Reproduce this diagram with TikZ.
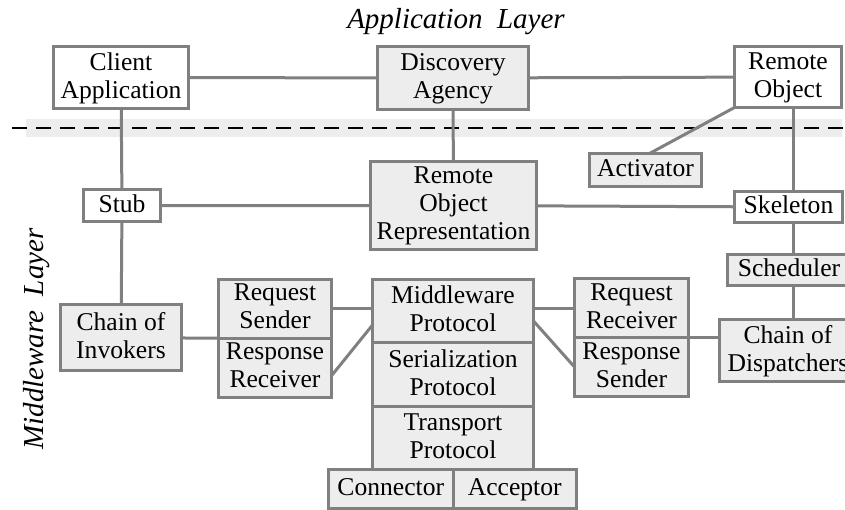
\documentclass[tikz,border=0pt]{standalone}
\usepackage{fontspec}
\setmainfont{Liberation Serif}
\usepackage{xcolor}
\usetikzlibrary{positioning}
\definecolor{boxgray}{gray}{0.5}
\definecolor{fillgray}{gray}{0.93}
\definecolor{bandgray}{gray}{0.93}

\begin{document}
\begin{tikzpicture}[
    x = 0.5pt, y = -0.5pt,
    node distance = 0pt,
    font = \fontsize{12.8}{14}\selectfont]
    \tikzstyle{box}=[draw=boxgray,line width=1.5pt,rectangle,inner sep=0pt,outer sep=0pt,text depth=0.22em,align=center]
    \tikzstyle{plain}=[box,fill=white]
    \tikzstyle{shade}=[box,fill=fillgray]
    \tikzstyle{link}=[draw=boxgray,line width=1.5pt]
    \tikzstyle{layer}=[inner sep=0pt,font=\fontsize{14.5}{16}\selectfont\itshape]
    \useasboundingbox (0,0) rectangle (845,509);
    \fill[bandgray] (26,119) rectangle (842,137);
    \draw[line width=1pt,dash pattern=on 7.5pt off 4.5pt] (12,128) -- (845,128);
    \node[layer] (applayer) at (456,22) {Application~~Layer};
    \node[layer,rotate=90] (midlayer) at (37,339) {Middleware~~Layer};
    \node[plain,minimum width=67.5pt,minimum height=31pt] (capp) at (121,77.5) {Client\\Application};
    \node[shade,minimum width=75.5pt,minimum height=31.5pt] (disc) at (453,78) {Discovery\\Agency};
    \node[plain,minimum width=53.5pt,minimum height=30.5pt] (robj) at (788,77) {Remote\\Object};
    \node[plain,minimum width=38.5pt,minimum height=16pt] (stub) at (122,205.5) {Stub};
    \node[shade,minimum width=83pt,minimum height=44pt] (ror) at (453.5,205.5) {Remote\\Object\\Representation};
    \node[shade,minimum width=56pt,minimum height=16.5pt] (activ) at (645.5,170) {Activator};
    \node[plain,minimum width=54pt,minimum height=15.5pt] (skel) at (788.5,207) {Skeleton};
    \node[shade,minimum width=61.5pt,minimum height=15.5pt] (sched) at (789,270) {Scheduler};
    \node[shade,minimum width=68.5pt,minimum height=31pt] (cod) at (788,350.5) {Chain of\\Dispatchers};
    \node[shade,minimum width=60.5pt,minimum height=33pt] (coi) at (121,337.5) {Chain of\\Invokers};
    \node[shade,minimum width=56.5pt,minimum height=29.5pt] (rs) at (275,308.75) {Request\\Sender};
    \node[shade,minimum width=56.5pt,minimum height=29.5pt] (resr) [below=of rs] {Response\\Receiver};
    \node[shade,minimum width=80.5pt,minimum height=31.75pt] (mp) at (453,311) {Middleware\\Protocol};
    \node[shade,minimum width=80.5pt,minimum height=31.75pt] (ser) [below=of mp] {Serialization\\Protocol};
    \node[shade,minimum width=80.5pt,minimum height=31.75pt] (trans) [below=of ser] {Transport\\Protocol};
    \node[shade,minimum width=62.25pt,minimum height=19.5pt] (conn) [below left=of trans.south] {Connector};
    \node[shade,minimum width=61.75pt,minimum height=19.5pt] (acc) [below right=of trans.south] {Acceptor};
    \node[shade,minimum width=57pt,minimum height=29.5pt] (rrec) at (631.5,308) {Request\\Receiver};
    \node[shade,minimum width=57pt,minimum height=29.5pt] (rsend) [below=of rrec] {Response\\Sender};
    \coordinate (rline) at ([xshift=2.5pt]robj.south);
    \draw[link] (capp) -- (disc) -- (robj);
    \draw[link] (capp) -- (stub) -- (coi);
    \draw[link] (disc) -- (ror);
    \draw[link] (stub) -- (ror) -- (skel);
    \draw[link] ([xshift=2pt]activ.north) -- (robj.south west);
    \draw[link] (rline) -- (rline |- skel.north)
      (rline |- skel.south) -- (rline |- sched.north)
      (rline |- sched.south) -- (rline |- cod.north);
    \draw[link] (coi) -- (rs.south west);
    \draw[link] (rs.east) -- (rs.east -| mp.west);
    \draw[link] ([yshift=-4pt]resr.east) -- ([yshift=-7pt]mp.west);
    \draw[link] (mp.east |- rrec.west) -- (rrec.west);
    \draw[link] ([yshift=-5pt]mp.east) -- (rsend.west);
    \draw[link] (rrec.south east) -- (rrec.south east -| cod.west);
\end{tikzpicture}
\end{document}
